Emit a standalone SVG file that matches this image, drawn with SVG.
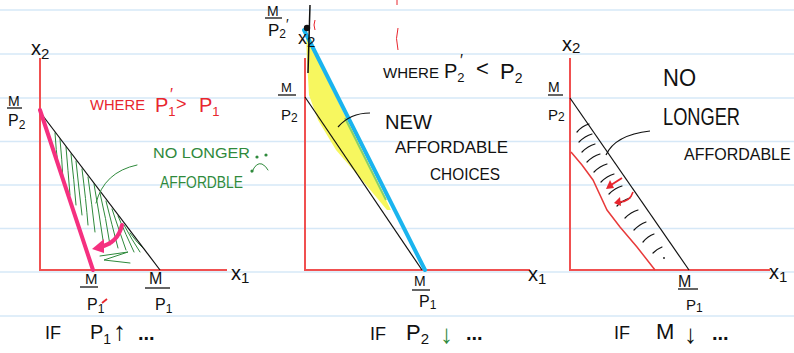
<svg xmlns="http://www.w3.org/2000/svg" width="794" height="353" viewBox="0 0 794 353">
<defs>
<style>
text{font-family:"Liberation Sans",Arial,sans-serif;fill:#111}
.rule{stroke:#d6e8f7;stroke-width:1.5}
.axis{stroke:#f05050;stroke-width:2;fill:none}
.bl{stroke:#111;stroke-width:1.2;fill:none}
.hg{stroke:#2f8a3c;stroke-width:1;fill:none;stroke-linecap:round}
.hk{stroke:#111;stroke-width:1.2;fill:none;stroke-linecap:round}
.frac{stroke:#111;stroke-width:1.3}
.red{fill:#e8262e}
.grn{fill:#2f8a3c}
</style>
</defs>
<rect width="794" height="353" fill="#fff"/>
<g id="rules">
<line class="rule" x1="0" y1="10" x2="794" y2="10"/>
<line class="rule" x1="0" y1="54" x2="794" y2="54"/>
<line class="rule" x1="0" y1="98" x2="794" y2="98"/>
<line class="rule" x1="0" y1="141.5" x2="794" y2="141.5"/>
<line class="rule" x1="0" y1="185" x2="794" y2="185"/>
<line class="rule" x1="0" y1="228.5" x2="794" y2="228.5"/>
<line class="rule" x1="0" y1="272" x2="794" y2="272"/>
<line class="rule" x1="0" y1="316" x2="794" y2="316"/>
</g>

<!-- Panel 1 -->
<g id="panel1">
<path class="axis" d="M40,58 L40,270 L227,270"/>
<g id="hatch1">
<path class="hg" d="M55,133 Q56,150 58,165"/>
<path class="hg" d="M60,139 Q62,160 63,180"/>
<path class="hg" d="M66,147 Q68,170 70,195"/>
<path class="hg" d="M71,154 Q74,180 76,205"/>
<path class="hg" d="M76,161 Q79,190 82,215"/>
<path class="hg" d="M82,169 Q86,200 88,225"/>
<path class="hg" d="M88,177 Q92,205 95,232"/>
<path class="hg" d="M94,184 Q99,212 103,240"/>
<path class="hg" d="M100,193 Q106,218 110,245"/>
<path class="hg" d="M106,201 Q112,225 118,248"/>
<path class="hg" d="M112,209 Q119,230 126,250"/>
<path class="hg" d="M118,216 Q126,235 134,252"/>
<path class="hg" d="M124,225 Q132,240 140,252"/>
<path class="hg" d="M130,233 Q137,243 145,250"/>
<path class="hg" d="M100,256 L128,252 L104,260 L130,263"/>
</g>
<line class="bl" x1="40" y1="112" x2="160" y2="270"/>
<line x1="40" y1="110" x2="93" y2="270" stroke="#f5307f" stroke-width="4" stroke-linecap="round"/>
<path d="M122,225 Q118,243 100,247" stroke="#f5307f" stroke-width="4" fill="none" stroke-linecap="round"/>
<polygon points="92,249 104,239 104,253" fill="#f5307f"/>
<path class="hg" d="M137,165 Q104,172 96,203" stroke-width="1.3"/>
<text x="31" y="55" font-size="20">x<tspan font-size="15" dy="4">2</tspan></text>
<text x="231" y="280" font-size="20">x<tspan font-size="15" dy="3">1</tspan></text>
<text x="8" y="106" font-size="14">M</text>
<line class="frac" x1="7" y1="108" x2="22" y2="108"/>
<text x="8" y="126" font-size="16">P<tspan font-size="12" dy="3">2</tspan></text>
<text x="85" y="284" font-size="15">M</text>
<line class="frac" x1="80" y1="287" x2="98" y2="287"/>
<text x="87" y="310" font-size="16">P<tspan font-size="12" dy="3">1</tspan></text>
<line x1="102" y1="303" x2="107" y2="299" stroke="#e8262e" stroke-width="1.8"/>
<text x="149" y="284" font-size="16">M</text>
<line class="frac" x1="145" y1="288" x2="170" y2="288"/>
<text x="155" y="310" font-size="16">P<tspan font-size="12" dy="3">1</tspan></text>
<text class="red" x="90" y="110" font-size="14" textLength="55" lengthAdjust="spacingAndGlyphs">WHERE</text>
<text class="red" x="155" y="112" font-size="20">P<tspan font-size="13" dy="4">1</tspan></text>
<text class="red" x="170" y="100" font-size="16">′</text>
<text class="red" x="176" y="110" font-size="18">&gt;</text>
<text class="red" x="199" y="112" font-size="20">P<tspan font-size="13" dy="4">1</tspan></text>
<text class="grn" x="153" y="158" font-size="15" textLength="97" lengthAdjust="spacingAndGlyphs">NO  LONGER</text>
<text class="grn" x="160" y="188" font-size="16" textLength="83" lengthAdjust="spacingAndGlyphs">AFFORDBLE</text>
<circle cx="257" cy="157" r="1.6" fill="#2f8a3c"/>
<circle cx="266" cy="155" r="1.6" fill="#2f8a3c"/>
<path class="hg" d="M252,172 Q256,162 262,164 Q266,166 268,170" stroke-width="1.5"/>
<circle cx="252" cy="171" r="1.6" fill="#2f8a3c"/>
<text x="45" y="339" font-size="18">IF</text>
<text x="90" y="339" font-size="20">P<tspan font-size="14" dy="5">1</tspan></text>
<text x="113" y="340" font-size="26">↑</text>
<text x="138" y="340" font-size="20" font-weight="bold">...</text>
</g>

<!-- Panel 2 -->
<g id="panel2">
<path class="axis" d="M305,58 L305,270 L530,270"/>
<polygon points="306,36 391,210 387,210 362,180 336,150 318,120 309,95 307,60" fill="#f7f75f"/>
<line class="bl" x1="305" y1="97" x2="422" y2="270"/>
<line x1="304" y1="30" x2="425" y2="270" stroke="#1ab4ee" stroke-width="4" stroke-linecap="round"/>
<line x1="345" y1="118" x2="386" y2="200" stroke="#86d06a" stroke-width="2"/>
<line x1="310" y1="5" x2="308" y2="73" stroke="#111" stroke-width="1.5"/>
<circle cx="307" cy="28" r="3.2" fill="#111"/>
<path d="M315,20 Q313,25 315,30" stroke="#e8262e" stroke-width="1" fill="none"/>
<path d="M397,0 L397,5 M398,28 Q395,38 398,50" stroke="#e8262e" stroke-width="1" fill="none"/>
<path class="bl" d="M338,127 Q350,113 370,113" stroke-width="1.5"/>
<text x="298" y="44" font-size="18">x<tspan font-size="15" dy="3">2</tspan></text>
<text x="528" y="281" font-size="20">x<tspan font-size="15" dy="3">1</tspan></text>
<text x="267" y="16" font-size="14">M</text>
<line class="frac" x1="265" y1="18" x2="282" y2="18"/>
<text x="268" y="36" font-size="17">P<tspan font-size="12" dy="2">2</tspan></text>
<text x="286" y="29" font-size="14">′</text>
<text x="281" y="92" font-size="13">M</text>
<line class="frac" x1="278" y1="95" x2="296" y2="95"/>
<text x="281" y="120" font-size="15">P<tspan font-size="12" dy="2">2</tspan></text>
<text x="414" y="286" font-size="14">M</text>
<line class="frac" x1="412" y1="290" x2="430" y2="290"/>
<text x="419" y="307" font-size="16">P<tspan font-size="12" dy="2">1</tspan></text>
<text x="383" y="78" font-size="15" textLength="56" lengthAdjust="spacingAndGlyphs">WHERE</text>
<text x="444" y="78" font-size="20">P<tspan font-size="13" dy="4">2</tspan></text>
<text x="460" y="66" font-size="16">′</text>
<text x="476" y="76" font-size="22">&lt;</text>
<text x="500" y="79" font-size="22">P<tspan font-size="14" dy="4">2</tspan></text>
<text x="385" y="129" font-size="20" textLength="47" lengthAdjust="spacingAndGlyphs">NEW</text>
<text x="395" y="153" font-size="17" textLength="113" lengthAdjust="spacingAndGlyphs">AFFORDABLE</text>
<text x="430" y="180" font-size="17" textLength="70" lengthAdjust="spacingAndGlyphs">CHOICES</text>
<text x="370" y="340" font-size="18">IF</text>
<text x="406" y="340" font-size="22">P<tspan font-size="15" dy="4">2</tspan></text>
<text class="grn" x="440" y="343" font-size="26">↓</text>
<text x="466" y="340" font-size="20" font-weight="bold">...</text>
</g>

<!-- Panel 3 -->
<g id="panel3">
<path class="axis" d="M570,58 L570,270 L770,270"/>
<g id="hatch3">
<path class="hk" d="M577,132 Q582,126 589,124"/>
<path class="hk" d="M579,142 Q585,136 592,134"/>
<path class="hk" d="M582,152 Q588,146 595,144"/>
<path class="hk" d="M587,162 Q593,156 600,154"/>
<path class="hk" d="M594,172 Q600,166 607,164"/>
<path class="hk" d="M601,182 Q607,176 614,174"/>
<path class="hk" d="M609,194 Q615,188 622,186"/>
<path class="hk" d="M617,206 Q623,200 630,198"/>
<path class="hk" d="M625,218 Q631,212 638,210"/>
<path class="hk" d="M634,230 Q640,224 646,222"/>
<path class="hk" d="M643,242 Q648,236 654,234"/>
<path class="hk" d="M653,253 Q657,249 662,247"/>
<circle cx="664" cy="258" r="0.9" fill="#111"/>
</g>
<line class="bl" x1="570" y1="98" x2="689" y2="270"/>
<path d="M571,152 L582,165 L593,180 L607,210 L620,227 L637,247 L655,270" stroke="#e83a3a" stroke-width="1.5" fill="none"/>
<path d="M622,178 L611,185" stroke="#e8262e" stroke-width="2" fill="none"/>
<polygon points="606,189 610,180 614,188" fill="#e8262e"/>
<path d="M633,192 Q630,202 619,202" stroke="#e8262e" stroke-width="1.6" fill="none"/>
<polygon points="614,203 620,197 621,206" fill="#e8262e"/>
<path class="bl" d="M606,155 Q615,135 650,131" stroke-width="1.5"/>
<text x="562" y="51" font-size="20">x<tspan font-size="15" dy="2">2</tspan></text>
<text x="769" y="279" font-size="20">x<tspan font-size="15" dy="3">1</tspan></text>
<text x="548" y="92" font-size="14">M</text>
<line class="frac" x1="548" y1="95" x2="563" y2="95"/>
<text x="548" y="120" font-size="15">P<tspan font-size="12" dy="1">2</tspan></text>
<text x="678" y="287" font-size="16">M</text>
<line class="frac" x1="678" y1="289" x2="698" y2="289"/>
<text x="686" y="310" font-size="15">P<tspan font-size="12" dy="2">1</tspan></text>
<text x="663" y="86" font-size="24" textLength="33" lengthAdjust="spacingAndGlyphs">NO</text>
<text x="663" y="125" font-size="23" textLength="77" lengthAdjust="spacingAndGlyphs">LONGER</text>
<text x="684" y="160" font-size="16">AFFORDABLE</text>
<text x="614" y="339" font-size="18">IF</text>
<text x="656" y="339" font-size="22">M</text>
<text x="684" y="343" font-size="26">↓</text>
<text x="712" y="340" font-size="20" font-weight="bold">...</text>
</g>
</svg>
